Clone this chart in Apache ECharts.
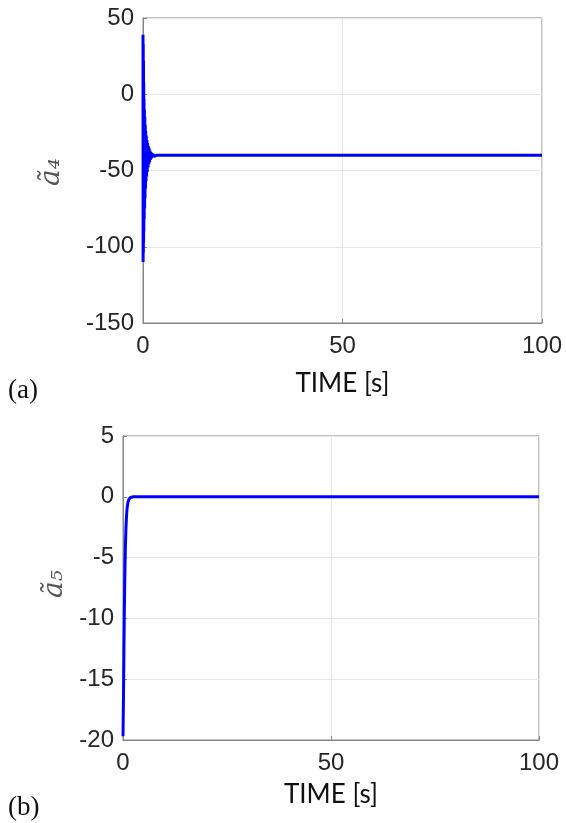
<!DOCTYPE html>
<html>
<head>
<meta charset="utf-8">
<script src="https://cdn.jsdelivr.net/npm/echarts@6/dist/echarts.min.js"></script>
<style>
html,body{margin:0;padding:0;background:#fff;}
#c{width:566px;height:823px;}
</style>
</head>
<body>
<div id="c"></div>
<script>
// Panel (a): a~4 vs time (dense decaying oscillation, alternating upper/lower envelope samples)
const timeA = [0, 0.03, 0.06, 0.09, 0.12, 0.15, 0.18, 0.21, 0.25, 0.3, 0.35, 0.4, 0.45, 0.5, 0.56, 0.62, 0.68, 0.75, 0.82, 0.9, 0.98, 1.06, 1.15, 1.25, 1.35, 1.45, 1.55, 1.65, 1.75, 1.85, 1.95, 2.1, 2.25, 2.4, 2.55, 2.7, 2.85, 3.0, 3.2, 3.5, 100];
const a4 = [39, -110, 33, -104, 22, -97, 8, -90, -3, -82, -10, -75, -15, -68, -20, -62, -24, -57, -27, -54, -30, -51, -32, -48, -34, -46, -35.5, -44.5, -37, -43, -38, -42, -38.7, -41.3, -39.2, -40.8, -39.6, -40.4, -39.8, -40, -40];

// Panel (b): a~5 vs time
const timeB = [0, 0.1, 0.2, 0.3, 0.4, 0.5, 0.6, 0.7, 0.8, 0.9, 1.0, 1.2, 1.4, 1.6, 1.8, 2.0, 2.5, 3, 100];
const a5 = [-19.7, -17, -13.5, -10, -7.5, -5.3, -3.8, -2.7, -1.9, -1.3, -0.9, -0.45, -0.22, -0.1, -0.05, -0.02, 0, 0, 0];

const xTicks = [0, 50, 100];
const yTicksA = [-150, -100, -50, 0, 50];
const yTicksB = [-20, -15, -10, -5, 0, 5];
const xLabel = 'TIME [s]';
const yLabelA = 'ã₄';
const yLabelB = 'ã₅';
const panelA = '(a)';
const panelB = '(b)';

const chart = echarts.init(document.getElementById('c'), null, {renderer: 'canvas'});
const tickFont = {fontFamily: 'Liberation Sans', fontSize: 24, color: '#262626'};
const axisGrey = '#858585';
const gridGrey = '#e6e6e6';

function xAxis(gridIndex, gap) {
  return {
    type: 'value', gridIndex, min: xTicks[0], max: xTicks[xTicks.length - 1], interval: 50,
    name: xLabel, nameLocation: 'middle', nameGap: gap,
    nameTextStyle: {fontFamily: 'Lato', fontSize: 26, color: '#111'},
    axisLine: {show: true, onZero: false, lineStyle: {color: axisGrey, width: 1}},
    axisTick: {show: true, inside: true, length: 4, lineStyle: {color: axisGrey}},
    axisLabel: Object.assign({margin: 11}, tickFont),
    splitLine: {show: true, lineStyle: {color: gridGrey, width: 1}}
  };
}
function yAxis(gridIndex, ticks) {
  return {
    type: 'value', gridIndex, min: ticks[0], max: ticks[ticks.length - 1], interval: ticks[1] - ticks[0],
    axisLine: {show: true, onZero: false, lineStyle: {color: axisGrey, width: 1}},
    axisTick: {show: true, inside: true, length: 4, lineStyle: {color: axisGrey}},
    axisLabel: Object.assign({margin: 9}, tickFont),
    splitLine: {show: true, lineStyle: {color: gridGrey, width: 1}}
  };
}

chart.setOption({
  animation: false,
  backgroundColor: '#fff',
  grid: [
    {left: 143, right: 24, top: 18, height: 305, show: true, borderColor: axisGrey, borderWidth: 1, backgroundColor: 'transparent'},
    {left: 123, right: 27, top: 436, height: 304, show: true, borderColor: axisGrey, borderWidth: 1, backgroundColor: 'transparent'}
  ],
  xAxis: [xAxis(0, 48), xAxis(1, 42)],
  yAxis: [yAxis(0, yTicksA), yAxis(1, yTicksB)],
  series: [
    {type: 'line', xAxisIndex: 0, yAxisIndex: 0, showSymbol: false, clip: false,
     data: timeA.map((t, i) => [t, a4[i]]),
     lineStyle: {color: '#0000ff', width: 3}, itemStyle: {color: '#0000ff'}},
    {type: 'line', xAxisIndex: 1, yAxisIndex: 1, showSymbol: false, clip: false,
     data: timeB.map((t, i) => [t, a5[i]]),
     lineStyle: {color: '#0000ff', width: 3}, itemStyle: {color: '#0000ff'}}
  ],
  graphic: [
    {type: 'text', x: 52, y: 172, rotation: Math.PI / 2,
     style: {text: yLabelA, fontFamily: 'DejaVu Serif', fontStyle: 'italic', fontSize: 28, fill: '#555', align: 'center', verticalAlign: 'middle'}},
    {type: 'text', x: 55, y: 584, rotation: Math.PI / 2,
     style: {text: yLabelB, fontFamily: 'DejaVu Serif', fontStyle: 'italic', fontSize: 28, fill: '#555', align: 'center', verticalAlign: 'middle'}},
    {type: 'text', x: 8, y: 391,
     style: {text: panelA, fontFamily: 'Liberation Serif', fontSize: 27, fill: '#111', align: 'left', verticalAlign: 'middle'}},
    {type: 'text', x: 8, y: 808,
     style: {text: panelB, fontFamily: 'Liberation Serif', fontSize: 27, fill: '#111', align: 'left', verticalAlign: 'middle'}}
  ]
});
</script>
</body>
</html>
